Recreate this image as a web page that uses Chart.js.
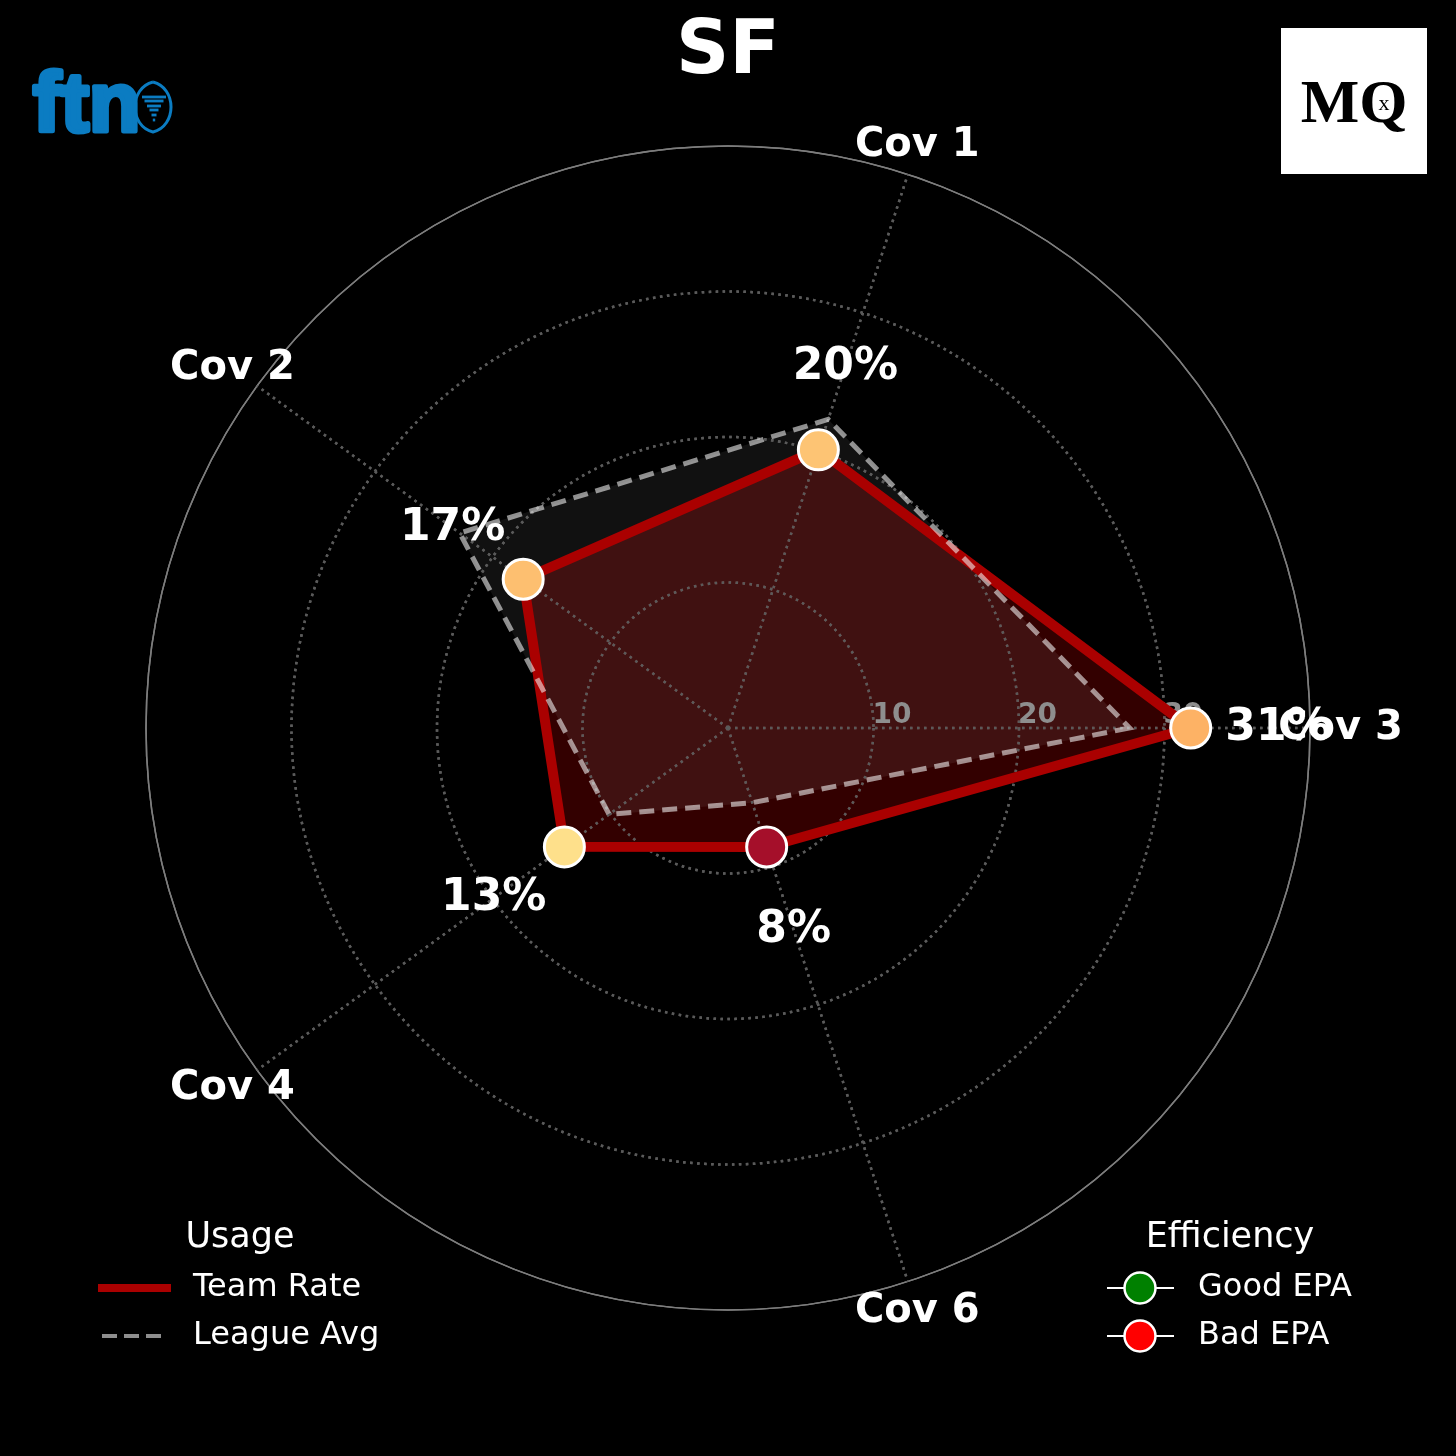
<!DOCTYPE html>
<html>
<head>
<meta charset="utf-8">
<title>SF coverage usage</title>
<script src="https://cdn.jsdelivr.net/npm/chart.js@4.4.1/dist/chart.umd.min.js"></script>
<style>
  html, body { margin: 0; padding: 0; background: #000; }
  canvas { display: block; }
</style>
</head>
<body>
<canvas id="radar" width="1456" height="1456"></canvas>
<script>
// axes listed clockwise starting from the right (Chart.js walks the radar clockwise)
const categories = ['Cov 3', 'Cov 6', 'Cov 4', 'Cov 2', 'Cov 1'];
const teamRate = [31.8, 8.6, 13.9, 17.4, 20.1];
const leagueAvg = [27.6, 5.4, 10.1, 22.8, 22.3];
const efficiencyColors = ['#fdb265', '#a50f2a', '#fee08b', '#fdbf70', '#fdc474'];
const radialTicks = [10, 20, 30];
const teamName = 'SF';
const usageItems = ['Team Rate', 'League Avg'];
const efficiencyItems = ['Good EPA', 'Bad EPA'];
const efficiencyLegendColors = ['#008000', '#ff0000'];

const FONT = '"DejaVu Sans", sans-serif';
const TEAM_RED = '#aa0000';
const LEAGUE_GREY = 'rgba(245,245,245,0.58)';
const GRID = '#5a5a5a';

// --- LOGOS ---
function drawFtnLogo(ctx) {
    ctx.save();
    ctx.fillStyle = ctx.strokeStyle = '#0b7cc2';
    ctx.font = 'bold 84px "Liberation Sans", sans-serif';
    ctx.textBaseline = 'alphabetic';
    ctx.lineWidth = 5;
    ctx.lineJoin = 'round';
    ctx.fillText('ftn', 33, 131);
    ctx.strokeText('ftn', 33, 131);

    // little football shield
    ctx.lineWidth = 3;
    ctx.beginPath();
    ctx.moveTo(153, 82);
    ctx.bezierCurveTo(177, 88, 177, 126, 153, 132);
    ctx.bezierCurveTo(129, 126, 129, 88, 153, 82);
    ctx.stroke();
    const bars = [[97, 12], [101, 9.5], [106, 7], [110, 4.5], [115, 2.5], [120, 1.2]];
    bars.forEach(([y, hw]) => ctx.fillRect(154 - hw, y - 1.4, hw * 2, 2.8));
    ctx.restore();
}

function drawMqLogo(ctx) {
    ctx.save();
    ctx.fillStyle = '#fff';
    ctx.fillRect(1281, 28, 146, 146);
    ctx.fillStyle = '#000';
    ctx.textAlign = 'center';
    ctx.textBaseline = 'alphabetic';
    ctx.font = 'bold 62px "Liberation Serif", serif';
    ctx.fillText('MQ', 1354, 122);
    ctx.font = '22px "Liberation Serif", serif';
    ctx.textBaseline = 'middle';
    ctx.fillText('x', 1384, 104);
    ctx.restore();
}

// --- LEGENDS ---
function drawLegends(ctx) {
    ctx.save();
    ctx.fillStyle = '#fff';
    ctx.textBaseline = 'middle';

    ctx.font = `35px ${FONT}`;
    ctx.textAlign = 'center';
    ctx.fillText('Usage', 240, 1238);
    ctx.fillText('Efficiency', 1230, 1238);

    ctx.font = `32px ${FONT}`;
    ctx.textAlign = 'left';
    const rows = [1288, 1336];
    usageItems.forEach((t, i) => ctx.fillText(t, 193, rows[i]));
    efficiencyItems.forEach((t, i) => ctx.fillText(t, 1198, rows[i]));

    // team rate handle
    ctx.lineCap = 'butt';
    ctx.strokeStyle = TEAM_RED;
    ctx.lineWidth = 8;
    ctx.beginPath(); ctx.moveTo(98, rows[0]); ctx.lineTo(171, rows[0]); ctx.stroke();
    // league avg handle
    ctx.strokeStyle = LEAGUE_GREY;
    ctx.lineWidth = 4;
    ctx.setLineDash([15, 7]);
    ctx.beginPath(); ctx.moveTo(102, rows[1]); ctx.lineTo(167, rows[1]); ctx.stroke();
    ctx.setLineDash([]);

    // efficiency markers
    efficiencyLegendColors.forEach((c, i) => {
        ctx.strokeStyle = '#fff';
        ctx.lineWidth = 2;
        ctx.beginPath(); ctx.moveTo(1107, rows[i]); ctx.lineTo(1174, rows[i]); ctx.stroke();
        ctx.beginPath();
        ctx.arc(1140, rows[i], 15.5, 0, Math.PI * 2);
        ctx.fillStyle = c;
        ctx.fill();
        ctx.lineWidth = 2.5;
        ctx.stroke();
    });
    ctx.restore();
}

// --- OVERLAY PLUGIN ---
const overlay = {
    id: 'overlay',
    beforeDraw(chart) {
        const ctx = chart.ctx;
        ctx.save();
        ctx.fillStyle = '#000';
        ctx.fillRect(0, 0, chart.width, chart.height);
        ctx.restore();
    },
    beforeDatasetsDraw(chart) {
        // fills are already down (filler runs first): grid and tick labels go over them, lines come after
        const r = chart.scales.r;
        const ctx = chart.ctx;
        r.drawGrid(chart.chartArea);
        ctx.save();
        ctx.font = `bold 28px ${FONT}`;
        ctx.fillStyle = '#8e8e8e';
        ctx.textAlign = 'left';
        ctx.textBaseline = 'alphabetic';
        radialTicks.forEach(v => {
            ctx.fillText(String(v), r.xCenter + r.getDistanceFromCenterForValue(v) - 1, r.yCenter - 5);
        });
        ctx.restore();
    },
    afterDatasetsDraw(chart) {
        const r = chart.scales.r;
        const ctx = chart.ctx;
        ctx.save();
        ctx.fillStyle = '#fff';
        ctx.textAlign = 'center';
        ctx.textBaseline = 'alphabetic';
        ctx.font = `bold 40px ${FONT}`;
        categories.forEach((c, i) => {
            const p = r.getPointPositionForValue(i, 42.1);
            ctx.fillText(c, p.x, p.y + 11);
        });
        ctx.font = `bold 44px ${FONT}`;
        teamRate.forEach((v, i) => {
            const p = r.getPointPositionForValue(i, v + 6);
            ctx.fillText(Math.floor(v) + '%', p.x, p.y + 12);
        });
        ctx.restore();
    },
    afterDraw(chart) {
        const ctx = chart.ctx;
        ctx.save();
        ctx.fillStyle = '#fff';
        ctx.textAlign = 'center';
        ctx.textBaseline = 'alphabetic';
        ctx.font = `bold 74px ${FONT}`;
        ctx.fillText(teamName, 728, 73);
        ctx.restore();
        drawFtnLogo(ctx);
        drawMqLogo(ctx);
        drawLegends(ctx);
    }
};

new Chart(document.getElementById('radar'), {
    type: 'radar',
    data: {
        labels: categories,
        datasets: [
            {
                label: 'Team Rate',
                data: teamRate,
                order: 3,
                borderColor: TEAM_RED,
                borderWidth: 10,
                backgroundColor: 'rgba(170,0,0,0.3)',
                fill: true,
                pointRadius: 0,
                pointHoverRadius: 0
            },
            {
                label: 'League Avg',
                data: leagueAvg,
                order: 2,
                borderColor: LEAGUE_GREY,
                borderWidth: 5,
                borderDash: [15, 8],
                backgroundColor: 'rgba(255,255,255,0.067)',
                fill: true,
                pointRadius: 0,
                pointHoverRadius: 0
            },
            {
                label: 'Efficiency',
                data: teamRate,
                order: 1,
                showLine: false,
                fill: false,
                pointRadius: 20,
                pointHoverRadius: 20,
                pointBorderWidth: 3,
                pointBorderColor: '#fff',
                pointBackgroundColor: efficiencyColors
            }
        ]
    },
    options: {
        responsive: false,
        animation: false,
        events: [],
        layout: { padding: 146 },
        elements: { line: { tension: 0 } },
        plugins: {
            legend: { display: false },
            tooltip: { enabled: false },
            filler: { drawTime: 'beforeDatasetsDraw' }
        },
        scales: {
            r: {
                min: 0,
                max: 40,
                startAngle: 90,
                ticks: { display: false, stepSize: 10 },
                pointLabels: { display: false },
                grid: {
                    circular: true,
                    color: c => c.tick.value === 40 ? '#7d7d7d' : GRID,
                    lineWidth: c => c.tick.value === 40 ? 1.5 : 2.5
                },
                border: { dash: c => c.tick.value === 40 ? [] : [2.5, 4.5] },
                angleLines: { color: GRID, lineWidth: 2.5, borderDash: [2.5, 4.5] }
            }
        }
    },
    plugins: [overlay]
});
</script>
</body>
</html>
